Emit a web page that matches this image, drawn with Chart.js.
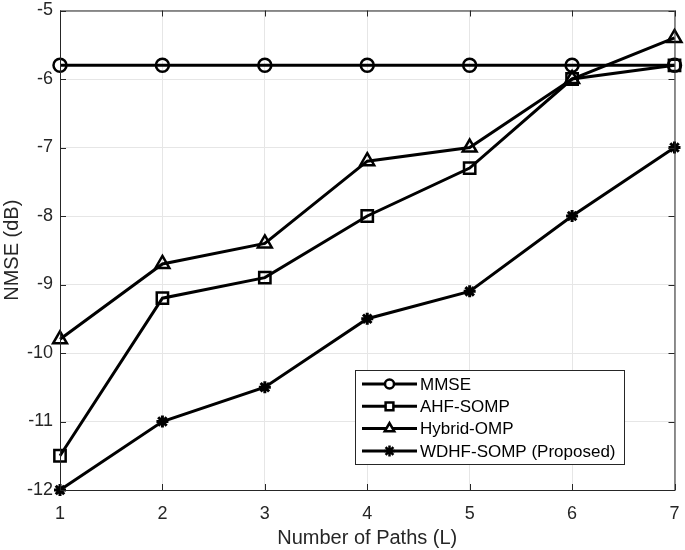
<!DOCTYPE html>
<html>
<head>
<meta charset="utf-8">
<script src="https://cdn.jsdelivr.net/npm/chart.js@4/dist/chart.umd.min.js"></script>
<style>
  html, body { margin: 0; padding: 0; background: #fff; }
  #wrap { width: 685px; height: 550px; }
</style>
</head>
<body>
<div id="wrap"><canvas id="c"></canvas></div>
<script>
var paths = [1, 2, 3, 4, 5, 6, 7];
var mmse = [-5.8, -5.8, -5.8, -5.8, -5.8, -5.8, -5.8];
var ahfSomp = [-11.5, -9.2, -8.9, -8.0, -7.3, -6.0, -5.8];
var hybridOmp = [-9.8, -8.7, -8.4, -7.2, -7.0, -6.0, -5.4];
var wdhfSomp = [-12, -11, -10.5, -9.5, -9.1, -8.0, -7.0];
var seriesNames = ['MMSE', 'AHF-SOMP', 'Hybrid-OMP', 'WDHF-SOMP (Proposed)'];
var markers = ['circle', 'rect', 'triangle', 'star'];
var markerSize = [6.5, 8, 8, 6];

var FONT = '"Liberation Sans", Arial, sans-serif';

function pts(arr) {
  return arr.map(function (v, i) { return { x: paths[i], y: v }; });
}

function mkSet(i, arr) {
  return {
    label: seriesNames[i],
    data: pts(arr),
    borderColor: '#000',
    backgroundColor: 'rgba(0,0,0,0)',
    borderWidth: 3,
    pointStyle: markers[i],
    pointRadius: markerSize[i],
    pointBorderWidth: markers[i] === 'star' ? 3 : 2.5,
    pointBorderColor: '#000',
    pointBackgroundColor: 'rgba(0,0,0,0)',
    tension: 0,
    clip: false
  };
}

var boxPlugin = {
  id: 'box',
  afterDraw: function (chart) {
    var ctx = chart.ctx;
    var a = chart.chartArea;
    var xs = chart.scales.x, ys = chart.scales.y;
    ctx.save();
    ctx.strokeStyle = '#262626';
    ctx.lineWidth = 1;
    ctx.strokeRect(a.left + 0.5, a.top + 0.5, a.right - a.left, a.bottom - a.top);
    // inward ticks, MATLAB style
    var t = 6;
    ctx.beginPath();
    xs.ticks.forEach(function (tk) {
      var px = Math.round(xs.getPixelForValue(tk.value)) + 0.5;
      ctx.moveTo(px, a.bottom); ctx.lineTo(px, a.bottom - t);
      ctx.moveTo(px, a.top); ctx.lineTo(px, a.top + t);
    });
    ys.ticks.forEach(function (tk) {
      var py = Math.round(ys.getPixelForValue(tk.value)) + 0.5;
      ctx.moveTo(a.left, py); ctx.lineTo(a.left + t, py);
      ctx.moveTo(a.right, py); ctx.lineTo(a.right - t, py);
    });
    ctx.stroke();

    // legend box
    var lx = 355, ly = 370, lw = 269, lh = 94;
    ctx.fillStyle = '#fff';
    ctx.fillRect(lx, ly, lw, lh);
    ctx.strokeStyle = '#262626';
    ctx.strokeRect(lx + 0.5, ly + 0.5, lw, lh);
    ctx.font = '17px ' + FONT;
    ctx.textBaseline = 'middle';
    for (var i = 0; i < seriesNames.length; i++) {
      var cy = ly + 14 + i * 22.3;
      ctx.strokeStyle = '#000';
      ctx.lineWidth = 3;
      ctx.beginPath();
      ctx.moveTo(lx + 7, cy); ctx.lineTo(lx + 62, cy);
      ctx.stroke();
      ctx.lineWidth = 2.5;
      ctx.fillStyle = '#fff';
      Chart.helpers.drawPoint(ctx, {
        pointStyle: markers[i],
        radius: markers[i] === 'circle' ? 4.5 : 5.5,
        rotation: 0,
        borderWidth: 2.5
      }, lx + 34.5, cy);
      ctx.fillStyle = '#000';
      ctx.fillText(seriesNames[i], lx + 65, cy + 1);
    }
    ctx.restore();
  }
};

new Chart(document.getElementById('c'), {
  type: 'line',
  data: {
    datasets: [mkSet(0, mmse), mkSet(1, ahfSomp), mkSet(2, hybridOmp), mkSet(3, wdhfSomp)]
  },
  options: {
    responsive: true,
    maintainAspectRatio: false,
    animation: false,
    layout: { padding: { top: 5, right: 8, bottom: 0, left: 0 } },
    plugins: { legend: { display: false }, tooltip: { enabled: false } },
    scales: {
      x: {
        type: 'linear',
        min: 1, max: 7,
        ticks: { stepSize: 1, color: '#262626', font: { family: FONT, size: 18 }, padding: 13 },
        grid: { color: '#e6e6e6', drawTicks: false },
        border: { display: false },
        title: { display: true, text: 'Number of Paths (L)', color: '#262626', font: { family: FONT, size: 20 }, padding: { top: 2, bottom: 0 } },
        afterFit: function (s) { s.height = 60; s.paddingLeft = 0; s.paddingRight = 0; }
      },
      y: {
        min: -12, max: -5,
        ticks: { stepSize: 1, color: '#262626', font: { family: FONT, size: 18 }, padding: 7 },
        grid: { color: '#e6e6e6', drawTicks: false },
        border: { display: false },
        title: { display: true, text: 'NMSE (dB)', color: '#262626', font: { family: FONT, size: 20 }, padding: { top: 0, bottom: 2 } },
        afterFit: function (s) { s.width = 60; s.paddingTop = 0; s.paddingBottom = 0; }
      }
    }
  },
  plugins: [boxPlugin]
});
</script>
</body>
</html>
